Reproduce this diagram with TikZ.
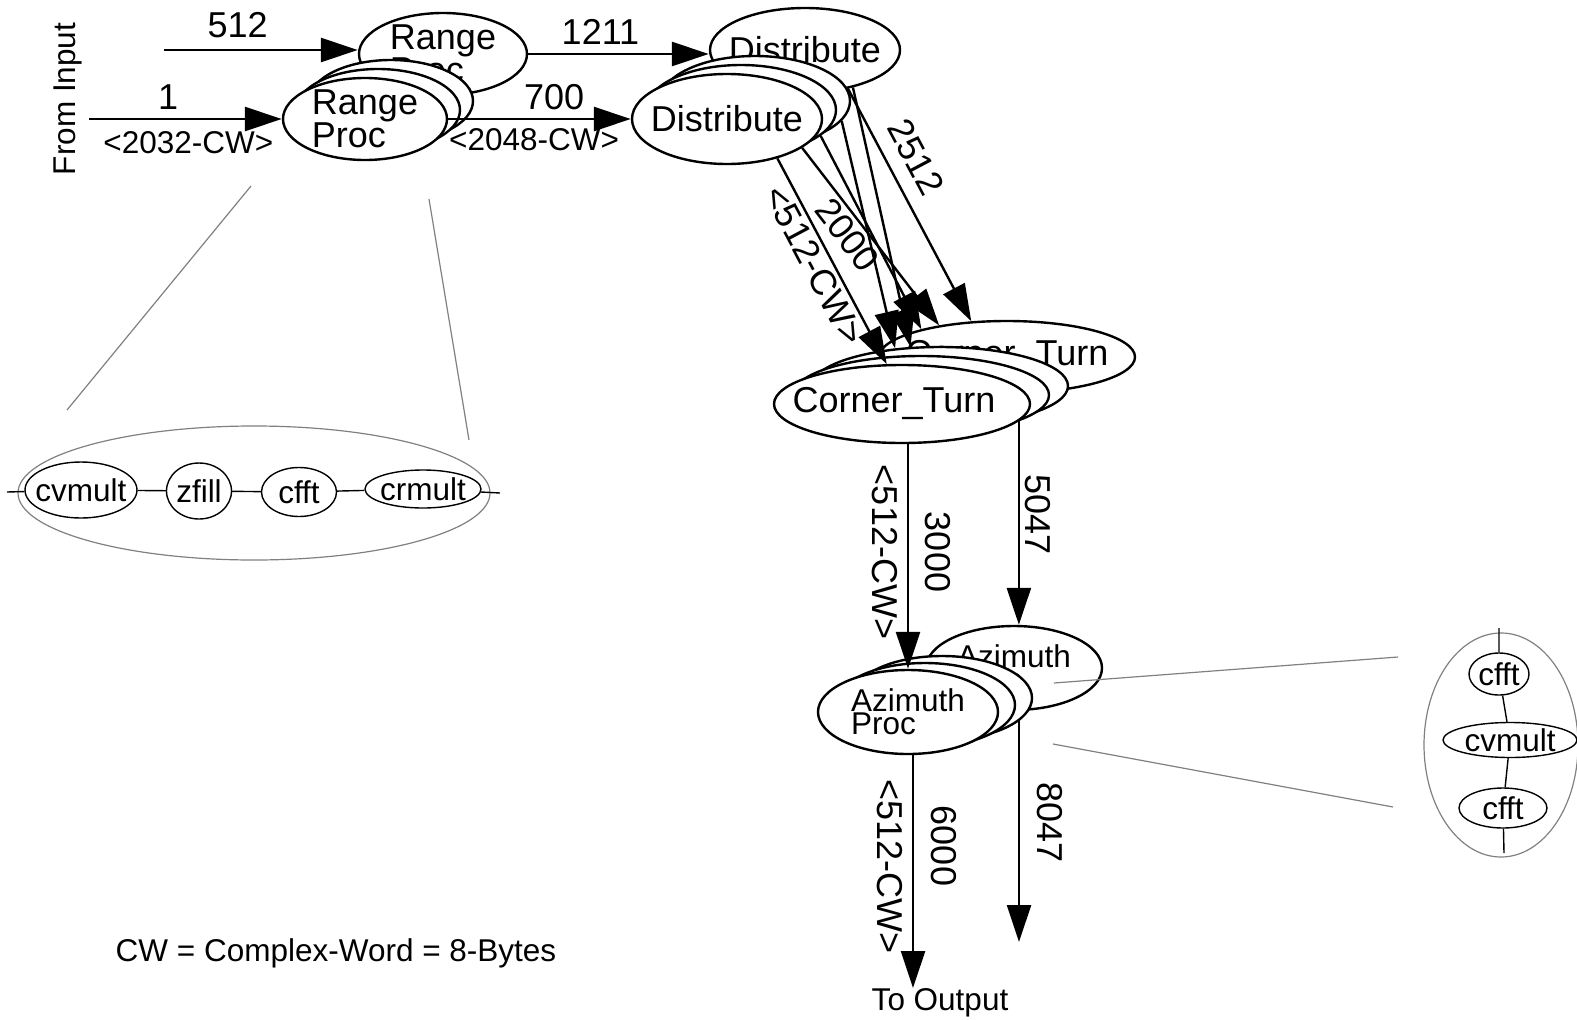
\documentclass[tikz,border=0pt]{standalone}
\usepackage{fontspec}
\setmainfont{Liberation Sans}
\usetikzlibrary{arrows.meta,shapes.geometric}

\newcommand{\nodefont}{\fontsize{36}{28}\selectfont}
\newcommand{\subfont}{\fontsize{31.5}{23}\selectfont}

\tikzset{
  proc/.style={draw, ellipse, line width=2.4pt, fill=white, inner xsep=-90pt, inner ysep=-45pt, font=\nodefont, align=left},
  subproc/.style={draw, ellipse, line width=1.4pt, inner xsep=-50pt, inner ysep=-25pt, font=\subfont},
  group/.style={draw=gray, ellipse, line width=1.2pt, inner sep=0pt},
  flow/.style={-{Triangle[length=37pt,width=24pt]}, line width=2.4pt},
  link/.style={line width=1.4pt},
  zoomline/.style={draw=gray, line width=1.2pt},
  num/.style={font=\nodefont},
  cw/.style={font=\subfont},
}

\begin{document}
\begin{tikzpicture}[x=1pt, y=-1pt]
\useasboundingbox (0,0) rectangle (1577,1020);

%--- Range processing (single + stacked copies) ---
\node[proc, minimum width=168pt, minimum height=82pt] (rangeTop) at (443,54) {Range\\Proc};
\node[proc, minimum width=164pt, minimum height=82pt] (rangeC) at (391,101) {};
\node[proc, minimum width=164pt, minimum height=82pt] (rangeB) at (378,110) {};
\node[proc, minimum width=164pt, minimum height=82pt] (rangeA) at (365,119) {Range\\Proc};

%--- Distribute ---
\node[proc, minimum width=190pt, minimum height=84pt] (distTop) at (805,50) {Distribute};
\node[proc, minimum width=190pt, minimum height=90pt] (distC) at (755,101) {};
\node[proc, minimum width=190pt, minimum height=90pt] (distB) at (741,110) {};
\node[proc, minimum width=190pt, minimum height=90pt] (distA) at (727,119) {Distribute};

%--- Corner turn ---
\node[proc, minimum width=256pt, minimum height=72pt] (ctTop) at (1007,357) {Corner\_Turn};
\node[proc, minimum width=256pt, minimum height=78pt] (ctC) at (940,386) {};
\node[proc, minimum width=256pt, minimum height=78pt] (ctB) at (921,395) {};
\node[proc, minimum width=256pt, minimum height=78pt] (ctA) at (902,404) {\hspace*{-16pt}Corner\_Turn};

%--- Azimuth processing ---
\node[proc, font=\subfont, minimum width=176pt, minimum height=84pt] (azTop) at (1014,668) {Azimuth\\Proc};
\node[proc, minimum width=180pt, minimum height=84pt] (azC) at (942,698) {};
\node[proc, minimum width=180pt, minimum height=84pt] (azB) at (925,705) {};
\node[proc, font=\subfont, minimum width=180pt, minimum height=84pt] (azA) at (908,712) {Azimuth\\Proc};

%--- free ends ---
\coordinate (in1) at (164,50);
\coordinate (in2) at (89,119);
\coordinate (out1) at (913,988);
\coordinate (out2) at (1019,942);

\node[cw, rotate=90] (fromInput) at (68,99) {From Input};
\node[cw] (toOutput) at (940,1003) {To Output};
\node[cw] (cwNote) at (336,953) {CW = Complex-Word = 8-Bytes};

%--- data flow ---
\draw[flow] (in1) -- node[num, above=8pt, pos=0.38] {512} (in1 -| rangeTop.west);
\draw[flow] (in2) -- node[num, above=5pt, pos=0.41] {1} node[cw, below=8pt, pos=0.515] {<2032-CW>} (rangeA.west);
\draw[flow] (rangeTop.east) -- node[num, above=5pt, pos=0.4] {1211} (rangeTop.east -| distTop.west);
\draw[flow] (rangeA.east) -- node[num, above=5pt, pos=0.58] {700} node[cw, below=5pt, pos=0.47] {<2048-CW>} (distA.west);

\draw[flow] (distA.-38) -- node[num, sloped, below, pos=0.48] {<512-CW>} (ctA.111);
\draw[flow] (distA.-21) -- node[num, sloped, below, pos=0.43] {2000} (ctTop.155);
\draw[flow] (distB.-18) -- (ctTop.162);
\draw[flow] (distC.-13) -- (ctC.140);
\draw[flow] (distTop.-38) -- (ctC.127);
\draw[flow] (distTop.-42) -- node[num, sloped, above, inner ysep=14pt, pos=0.35] {2512} (ctTop.135);

\draw[flow] (ctA.south -| azA.north) -- node[num, sloped, below, inner ysep=9pt, pos=0.48] {<512-CW>} node[num, sloped, above, inner ysep=16pt, pos=0.48] {3000} (azA.north);
\draw[flow] (ctB.-15) -- node[num, sloped, above, inner ysep=5pt, pos=0.46] {5047} (ctB.-15 |- azTop.north);

\draw[flow] (azA.south -| out1) -- node[num, sloped, below, inner ysep=9pt, pos=0.48] {<512-CW>} node[num, sloped, above, inner ysep=17pt, pos=0.39] {6000} (out1);
\draw[flow] (azC.-16 -| out2) -- node[num, sloped, above, inner ysep=17pt, pos=0.46] {8047} (out2);

%--- range proc internals ---
\node[group, minimum width=472pt, minimum height=134pt] (rpGroup) at (254,493) {};
\coordinate (rpIn) at (7,492);
\coordinate (rpOut) at (500,493);
\node[subproc, minimum width=112pt, minimum height=56pt] (rpMult) at (81,490) {cvmult};
\node[subproc, minimum width=65pt, minimum height=56pt] (rpFill) at (199,491) {zfill};
\node[subproc, minimum width=75pt, minimum height=49pt] (rpFft) at (299,492) {cfft};
\node[subproc, minimum width=116pt, minimum height=38pt] (rpCrm) at (423,489) {crmult};
\draw[link] (rpIn) -- (rpMult) -- (rpFill) -- (rpFft) -- (rpCrm) -- (rpOut);

\coordinate (rpZoomA) at (251,186);
\coordinate (rpZoomB) at (67,410);
\coordinate (rpZoomC) at (429,199);
\coordinate (rpZoomD) at (469,440);
\draw[zoomline] (rpZoomA) -- (rpZoomB);
\draw[zoomline] (rpZoomC) -- (rpZoomD);

%--- azimuth proc internals ---
\node[group, minimum width=154pt, minimum height=224pt] (apGroup) at (1501,745) {};
\coordinate (apIn) at (1499,628);
\coordinate (apOut) at (1504,853);
\node[subproc, minimum width=60pt, minimum height=42pt] (apFft1) at (1499,674) {cfft};
\node[subproc, minimum width=134pt, minimum height=35pt] (apMult) at (1510,740) {cvmult};
\node[subproc, minimum width=88pt, minimum height=40pt] (apFft2) at (1503,808) {cfft};
\draw[link] (apIn) -- (apFft1) -- (apMult) -- (apFft2) -- (apOut);

\coordinate (apZoomA) at (1054,683);
\coordinate (apZoomB) at (1398,657);
\coordinate (apZoomC) at (1053,744);
\coordinate (apZoomD) at (1393,807);
\draw[zoomline] (apZoomA) -- (apZoomB);
\draw[zoomline] (apZoomC) -- (apZoomD);
\end{tikzpicture}
\end{document}
